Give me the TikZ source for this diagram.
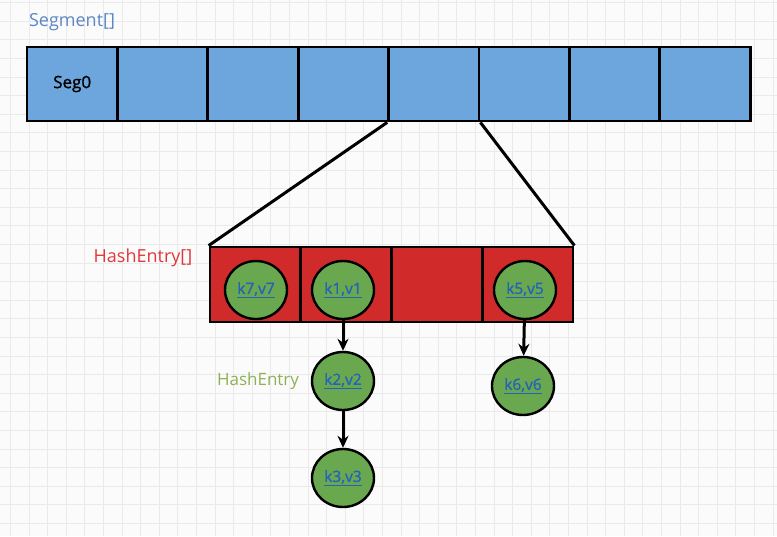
\documentclass[tikz,border=0pt]{standalone}
\usepackage{fontspec}
\setmainfont{Open Sans}
\newfontfamily\keyfont{Open Sans}[FakeBold=1.2]
\usetikzlibrary{shapes.geometric,arrows.meta}
\definecolor{segblue}{HTML}{6CA6DC}
\definecolor{slotred}{HTML}{D02A2A}
\definecolor{entrygreen}{HTML}{6AA84F}
\definecolor{keyblue}{HTML}{2463B8}
\definecolor{segtext}{HTML}{5B87C5}
\definecolor{hashred}{HTML}{E0383A}
\definecolor{hashgreen}{HTML}{8DB255}
\definecolor{gridgray}{HTML}{EAEAEA}
\begin{document}
\begin{tikzpicture}[x=1pt,y=-1pt]
        \tikzstyle{every node}=[font=\fontsize{17}{20}\selectfont]
        \tikzstyle{seg}=[draw, line width=2.8pt, fill=segblue, minimum width=90.4pt, minimum height=74pt, inner sep=0pt, font=\keyfont\fontsize{17}{20}\selectfont]
        \tikzstyle{slot}=[draw, line width=2.8pt, fill=slotred, minimum width=90.75pt, minimum height=75pt, inner sep=0pt]
        \tikzstyle{entry}=[ellipse, draw, line width=2.4pt, fill=entrygreen, minimum width=62pt, minimum height=58pt, inner sep=0pt, text=keyblue, font=\keyfont\fontsize{15.5}{18}\selectfont]
        \tikzstyle{link}=[line width=3pt, -{Stealth[length=12pt,width=11pt]}]
        \fill[white!97!gray] (0,0) rectangle (777,536);
        \useasboundingbox (0,0) rectangle (777,536);
        \foreach \i in {0,...,41} \draw[gridgray, line width=0.8pt] ({10.4+18.6*\i},0) -- ({10.4+18.6*\i},536);
        \foreach \i in {0,...,28} \draw[gridgray, line width=0.8pt] (0,{2.5+18.6*\i}) -- (777,{2.5+18.6*\i});
        % Segment[]
        \node[text=segtext, font=\fontsize{18}{21}\selectfont] (seglbl) at (72,22) {Segment[]};
        \foreach \i/\t in {0/Seg0,1/,2/,3/,4/,5/,6/,7/}
            \node[seg] (seg\i) at ({72.2+90.4*\i},84) {\t};
        % HashEntry[]
        \node[text=hashred, font=\fontsize{18}{21}\selectfont] (hashlbl) at (143,258) {HashEntry[]};
        \foreach \i in {0,...,3}
            \node[slot] (slot\i) at ({255.4+90.75*\i},284.5) {};
        \draw[line width=3pt] (seg4.south west) -- (slot0.north west);
        \draw[line width=3pt] (seg4.south east) -- (slot3.north east);
        % HashEntry
        \node[entry] (e7) at (256,290) {\underline{k7,v7}};
        \node[entry] (e1) at (343,290) {\underline{k1,v1}};
        \node[entry] (e5) at (525,290) {\underline{k5,v5}};
        \node[entry] (e2) at (343,381) {\underline{k2,v2}};
        \node[entry] (e3) at (343,478) {\underline{k3,v3}};
        \node[entry] (e6) at (523,386) {\underline{k6,v6}};
        \node[text=hashgreen, font=\fontsize{17}{20}\selectfont] (entrylbl) at (258,381) {HashEntry};
        \draw[link] (e1) -- (e2);
        \draw[link] (e2) -- (e3);
        \draw[link] (e5) -- (e6);
    \end{tikzpicture}
\end{document}
